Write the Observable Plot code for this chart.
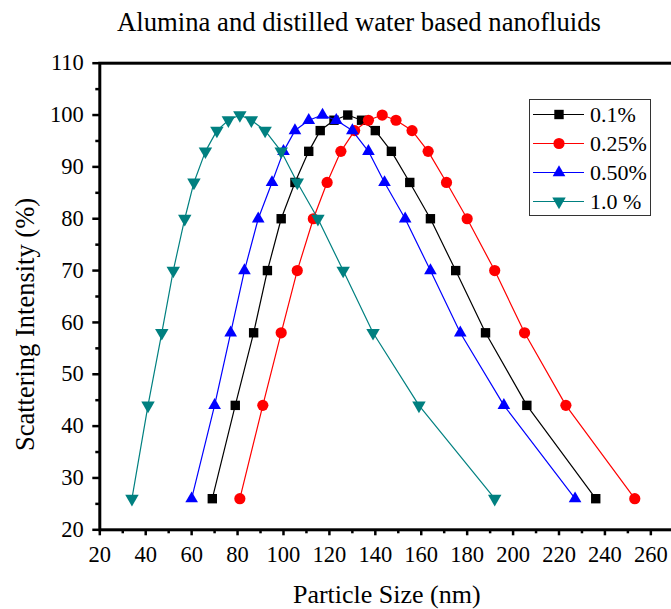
<!DOCTYPE html>
<html><head><meta charset="utf-8">
<script src="https://cdn.jsdelivr.net/npm/d3@7"></script>
<script src="https://cdn.jsdelivr.net/npm/@observablehq/plot@0.6"></script>
<style>
html,body{margin:0;padding:0;background:#fff;overflow:hidden;}
#wrap{position:relative;width:671px;height:609px;overflow:hidden;font-family:"Liberation Serif","Times New Roman",serif;color:#000;}
#title{width:718px;height:44px;line-height:44px;font-size:26.7px;text-align:center;white-space:nowrap;}
#legend{position:absolute;left:529px;top:99px;width:122px;height:117px;box-sizing:border-box;border:1.5px solid #333;background:#fff;}
</style></head><body>
<div id="wrap">
  <div id="title">Alumina and distilled water based nanofluids</div>
  <div id="chart"></div>
  <div id="legend"></div>
</div>
<script>
// ---- data ----
const seriesNames = ["0.1%", "0.25%", "0.50%", "1.0 %"];
const seriesColors = ["#000000", "#ff0000", "#0000ff", "#008080"];
const intensity = [26, 44, 58, 70, 80, 87, 93, 97, 99, 100, 99, 97, 93, 87, 80, 70, 58, 44, 26];
const size_0_1 = [69, 79, 87, 93, 99, 105, 111, 116, 122, 128, 134, 140, 147, 155, 164, 175, 188, 206, 236];
const size_0_25 = [81, 91, 99, 106, 113, 119, 125, 131, 137, 143, 149, 156, 163, 171, 180, 192, 205, 223, 253];
const size_0_50 = [60, 70, 77, 83, 89, 95, 100, 105, 111, 117, 123, 130, 137, 144, 153, 164, 177, 196, 227];
const size_1_0 = [34, 41, 47, 52, 57, 61, 66, 71, 76, 81, 86, 92, 99, 106, 115, 126, 139, 159, 192];
const xTicks = [20, 40, 60, 80, 100, 120, 140, 160, 180, 200, 220, 240, 260];
const xMinorTicks = [30, 50, 70, 90, 110, 130, 150, 170, 190, 210, 230, 250];
const yTicks = [20, 30, 40, 50, 60, 70, 80, 90, 100, 110];
const yMinorTicks = [25, 35, 45, 55, 65, 75, 85, 95, 105];
const xLabel = "Particle Size (nm)";
const yLabel = "Scattering Intensity (%)";

const sizes = [size_0_1, size_0_25, size_0_50, size_1_0];

// down-pointing triangle symbol
const triangleDown = {
  draw(context, size) {
    const y = Math.sqrt(size / (Math.sqrt(3) * 3));
    const s3 = Math.sqrt(3);
    context.moveTo(0, 2 * y);
    context.lineTo(-s3 * y, -y);
    context.lineTo(s3 * y, -y);
    context.closePath();
  }
};
const symbols = ["square", "circle", "triangle", triangleDown];
const radii = [5.3, 5.6, 4.7, 5.0];

const series = seriesNames.map((name, i) =>
  sizes[i].map((s, j) => ({name, size: s, intensity: intensity[j]}))
);

const marks = [];
series.forEach((data, i) => {
  marks.push(Plot.line(data, {x: "size", y: "intensity", stroke: seriesColors[i], strokeWidth: 1.2}));
  marks.push(Plot.dot(data, {x: "size", y: "intensity", fill: seriesColors[i], stroke: "none", r: radii[i], symbol: symbols[i]}));
});

const chart = Plot.plot({
  width: 671,
  height: 565,
  marginLeft: 99.3,
  marginRight: -2.3,
  marginTop: 18.7,
  marginBottom: 79.7,
  style: {fontFamily: "'Liberation Serif','Times New Roman',serif", color: "#000", background: "#fff", overflow: "visible"},
  x: {domain: [20, 270]},
  y: {domain: [20, 110]},
  marks: [
    ...marks,
    Plot.axisY(yTicks, {tickSize: 7, tickPadding: 9, strokeWidth: 2.5, fontSize: 22.5, label: null}),
    Plot.axisY(yMinorTicks, {tickSize: 4, strokeWidth: 2.5, text: null, label: null}),
    Plot.axisX(xTicks, {tickSize: 6, tickPadding: 10, strokeWidth: 2.5, fontSize: 22.5, label: null}),
    Plot.axisX(xMinorTicks, {tickSize: 4, strokeWidth: 2.5, text: null, label: null}),
    Plot.frame({stroke: "#000", strokeWidth: 3}),
    Plot.text([xLabel], {frameAnchor: "bottom", text: d => d, dy: 65, fontSize: 26, textAnchor: "middle", lineAnchor: "middle"}),
    Plot.text([yLabel], {frameAnchor: "left", text: d => d, dx: -74, dy: 28, rotate: -90, fontSize: 26.5, textAnchor: "middle", lineAnchor: "middle"})
  ]
});
document.getElementById("chart").appendChild(chart);

// ---- legend ----
const lg = d3.select("#legend").append("svg").attr("width", 119).attr("height", 114)
  .style("display", "block");
const rowY = [16, 45, 74, 103];
seriesNames.forEach((name, i) => {
  const g = lg.append("g").attr("transform", `translate(0,${rowY[i] - 1.5})`);
  g.append("line").attr("x1", 3).attr("x2", 54).attr("y1", 0).attr("y2", 0)
    .attr("stroke", seriesColors[i]).attr("stroke-width", 1.2);
  const sym = typeof symbols[i] === "string"
    ? ({square: d3.symbolSquare, circle: d3.symbolCircle, triangle: d3.symbolTriangle})[symbols[i]]
    : symbols[i];
  g.append("path").attr("transform", "translate(29,0)")
    .attr("d", d3.symbol(sym, Math.PI * radii[i] * radii[i])())
    .attr("fill", seriesColors[i]);
  g.append("text").attr("x", 60).attr("y", 0).attr("dy", "0.35em")
    .attr("font-size", 22).attr("font-family", "'Liberation Serif','Times New Roman',serif")
    .text(name);
});
</script>
</body></html>
